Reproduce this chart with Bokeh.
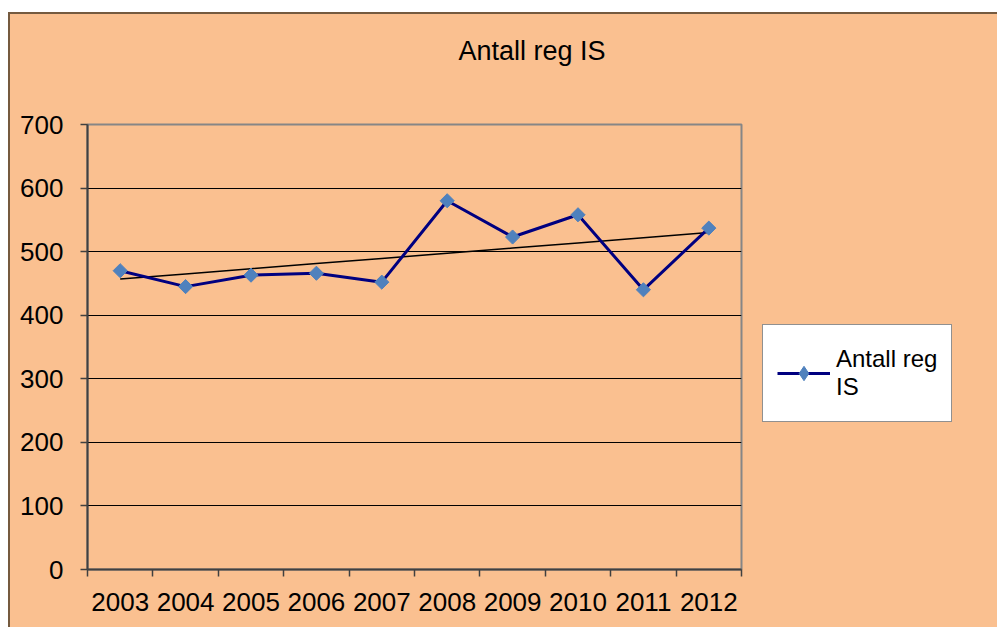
import numpy as np
from bokeh.plotting import figure
from bokeh.layouts import row
from bokeh.models import (Range1d, FixedTicker, Legend, LegendItem, Title, ColumnDataSource)
from bokeh.embed import file_html
from bokeh.resources import INLINE

years = ["2003", "2004", "2005", "2006", "2007", "2008", "2009", "2010", "2011", "2012"]
values = [470, 445, 463, 466, 452, 580, 523, 558, 440, 537]
y_ticks = [0, 100, 200, 300, 400, 500, 600, 700]
series_name = "Antall reg IS"
legend_label = "Antall reg\nIS"

FONT = "Liberation Sans"
BG = "#FAC090"
LINE_C = "#000080"
MARK_C = "#4F81BD"

xpos = [i + 0.5 for i in range(len(years))]
coef = np.polyfit(np.arange(len(values)), np.array(values, dtype=float), 1)
trend = [float(np.polyval(coef, i)) for i in range(len(values))]

H = 613
p = figure(width=742, height=H, output_backend="svg", toolbar_location=None,
           x_range=Range1d(0, len(years)), y_range=Range1d(0, 700),
           min_border_left=77, min_border_right=11, min_border_top=110, min_border_bottom=58)
p.background_fill_color = BG
p.border_fill_color = BG
p.outline_line_color = "#868686"
p.outline_line_width = 2
p.styles = {"background-color": BG}

src = ColumnDataSource(dict(x=xpos, y=values, t=trend))
p.line("x", "t", source=src, line_color="black", line_width=1.5)
p.line("x", "y", source=src, line_color=LINE_C, line_width=3)
p.scatter("x", "y", source=src, marker="square", angle=np.pi / 4, size=10,
          fill_color=MARK_C, line_color=MARK_C)

# axes
p.xaxis.ticker = FixedTicker(ticks=xpos, minor_ticks=list(range(len(years) + 1)))
p.xaxis.major_label_overrides = {x: y for x, y in zip(xpos, years)}
p.xaxis.major_tick_line_color = None
p.xaxis.major_tick_out = 0
p.xaxis.minor_tick_out = 7
p.xaxis.minor_tick_in = 0
p.xaxis.minor_tick_line_color = "#404040"
p.xaxis.minor_tick_line_width = 1.5
p.xaxis.major_label_standoff = 16

p.yaxis.ticker = FixedTicker(ticks=y_ticks)
p.yaxis.major_tick_out = 7
p.yaxis.major_tick_in = 0
p.yaxis.minor_tick_line_color = None
p.yaxis.major_tick_line_color = "#404040"
p.yaxis.major_tick_line_width = 1.5
p.yaxis.major_label_standoff = 17

for ax in (p.xaxis, p.yaxis):
    ax.axis_line_color = "#404040"
    ax.axis_line_width = 2
    ax.major_label_text_font = FONT
    ax.major_label_text_font_size = "26px"
    ax.major_label_text_color = "black"

p.xgrid.grid_line_color = None
p.ygrid.ticker = FixedTicker(ticks=y_ticks)
p.ygrid.grid_line_color = "black"
p.ygrid.grid_line_width = 1

# spacer title (closest to the frame), then the real title above it
p.add_layout(Title(text=" ", text_font_size="1px", standoff=56, text_color=BG), "above")
p.add_layout(Title(text=series_name, align="left", offset=371, standoff=0,
                   text_font=FONT, text_font_size="27px", text_font_style="normal",
                   text_color="black"), "above")

# legend panel (second figure, same background)
q = figure(width=245, height=H, output_backend="svg", toolbar_location=None,
           x_range=Range1d(0, 1), y_range=Range1d(0, 1),
           x_axis_location=None, y_axis_location=None,
           min_border_left=0, min_border_right=0, min_border_top=0, min_border_bottom=0)
q.background_fill_color = BG
q.border_fill_color = BG
q.outline_line_color = None
q.grid.grid_line_color = None
q.styles = {"background-color": BG}
lg_line = q.line("x", "y", source=src, line_color=LINE_C, line_width=3)
lg_mark = q.scatter("x", "y", source=src, marker="diamond", size=14,
                    fill_color=MARK_C, line_color=MARK_C)

legend = Legend(items=[LegendItem(label=legend_label, renderers=[lg_line, lg_mark])],
                location=(10, 147), orientation="vertical")
legend.background_fill_color = "white"
legend.background_fill_alpha = 1
legend.border_line_color = "#222222"
legend.border_line_width = 1
legend.label_text_font = FONT
legend.label_text_font_size = "24px"
legend.label_text_color = "black"
legend.glyph_width = 53
legend.glyph_height = 36
legend.label_height = 68
legend.label_standoff = 6
legend.padding = 14
legend.margin = 0
q.add_layout(legend, "center")

layout = row(p, q, spacing=0)
layout.margin = (12, 0, 0, 8)
layout.styles = {"border-top": "2px solid #755a3f", "border-left": "2px solid #755a3f",
                 "background-color": BG}

open("out.html", "w").write(file_html(layout, INLINE))
